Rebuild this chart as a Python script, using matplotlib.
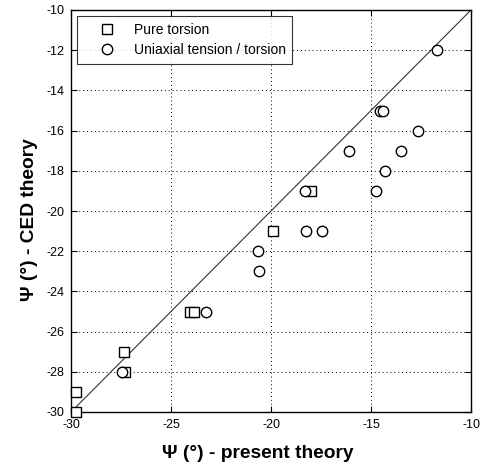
import matplotlib
matplotlib.use("Agg")
import matplotlib.pyplot as plt

sq_x = [-29.75, -29.75, -27.35, -27.3, -24.05, -23.85, -19.9, -18.0]
sq_y = [-30, -29, -27, -28, -25, -25, -21, -19]
ci_x = [-11.7, -14.55, -14.4, -12.65, -16.1, -13.5, -14.3, -14.75, -18.3,
        -18.25, -17.45, -20.65, -20.6, -23.25, -27.45]
ci_y = [-12, -15, -15, -16, -17, -17, -18, -19, -19,
        -21, -21, -22, -23, -25, -28]
diag = [-30, -10]
xticks = [-30, -25, -20, -15, -10]
yticks = [-30, -28, -26, -24, -22, -20, -18, -16, -14, -12, -10]

plt.rcParams['font.family'] = ['Liberation Sans', 'DejaVu Sans']
plt.rcParams['axes.unicode_minus'] = False
fig = plt.figure(figsize=(4.8, 4.68), dpi=100)
ax = fig.add_axes([71/480, 1-412/468, 400/480, 402/468])

ax.plot(diag, diag, color='#333333', lw=0.8, zorder=2)
ax.plot(sq_x, sq_y, ls='none', marker='s', ms=7.2, mfc='white', mec='black',
        mew=1.0, label='Pure torsion', zorder=3, clip_on=False)
ax.plot(ci_x, ci_y, ls='none', marker='o', ms=7.5, mfc='white', mec='black',
        mew=1.0, label='Uniaxial tension / torsion', zorder=3, clip_on=False)

ax.set_xlim(-30, -10)
ax.set_ylim(-30, -10)
ax.set_xticks(xticks)
ax.set_yticks(yticks)
ax.tick_params(direction='in', length=4, width=0.8, labelsize=9, colors='black',
               top=True, right=True, pad=5)
ax.grid(True, color='black', ls=(0, (1, 3)), lw=0.7)
for s in ax.spines.values():
    s.set_linewidth(1.0)

ax.set_xlabel('Ψ (°) - present theory', fontsize=13.8, fontweight='bold')
ax.set_ylabel('Ψ (°) - CED theory', fontsize=13.8, fontweight='bold')
ax.xaxis.set_label_coords(0.468, -0.081)
ax.yaxis.set_label_coords(-0.082, 0.478)

leg = ax.legend(loc='upper left', fontsize=10, frameon=True, fancybox=False,
                edgecolor='black', borderaxespad=0.4, handletextpad=0.2,
                borderpad=0.5, labelspacing=0.45, handlelength=3.4)
leg.get_frame().set_linewidth(0.8)

fig.savefig('out.png', dpi=100)
